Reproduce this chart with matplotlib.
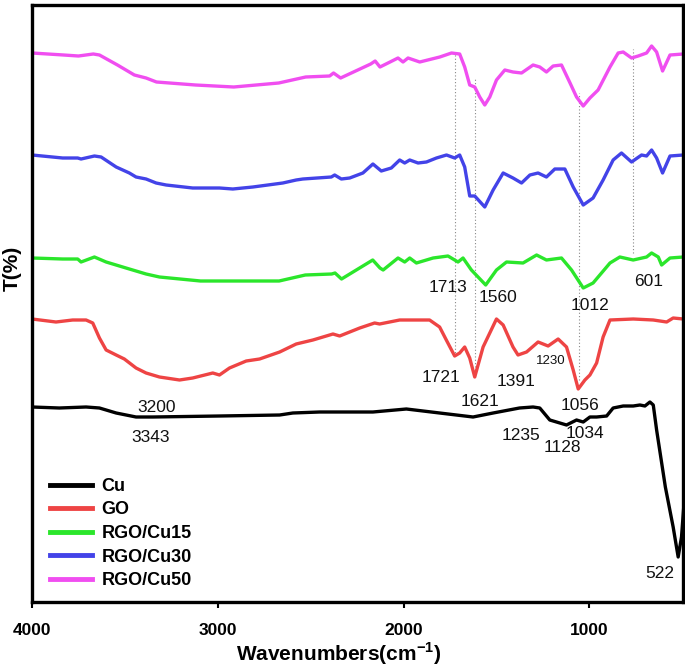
import matplotlib
matplotlib.use("Agg")
import matplotlib.pyplot as plt

plt.rcParams['font.family'] = ['Liberation Sans', 'DejaVu Sans']
plt.rcParams['mathtext.fontset'] = 'custom'
plt.rcParams['mathtext.rm'] = 'Liberation Sans'
plt.rcParams['mathtext.bf'] = 'Liberation Sans:bold'

# ---------------- data (wavenumber, transmittance in arbitrary stacked units) -------------
labels = ["Cu", "GO", "RGO/Cu15", "RGO/Cu30", "RGO/Cu50"]
colors = ["#000000", "#EE4444", "#2BE62B", "#4343E8", "#F04EF0"]

cu_wn = [4000, 3853, 3709, 3637, 3547, 3440, 3350, 2991, 2667, 2596, 2452, 2344, 2236, 2165,
         1985, 1806, 1626, 1518, 1376, 1303, 1267, 1213, 1123, 1069, 1033, 997, 961, 907, 872,
         818, 764, 728, 701, 674, 656, 638, 591, 549, 522, 504, 492]
cu_t = [195, 194, 195, 194, 189, 185, 185, 186, 187, 189, 190, 190, 190, 190,
        193, 189, 185, 189, 194, 195, 194, 182, 177, 182, 180, 185, 185, 186, 194,
        196, 196, 197, 196, 200, 197, 172, 115, 75, 45, 65, 95]

go_wn = [4000, 3871, 3781, 3709, 3673, 3637, 3601, 3547, 3503, 3440, 3386, 3314, 3206, 3135,
         3027, 2991, 2937, 2847, 2775, 2667, 2578, 2488, 2380, 2344, 2236, 2156, 2129, 2021,
         1860, 1806, 1770, 1725, 1698, 1671, 1644, 1617, 1572, 1500, 1464, 1411, 1384, 1338,
         1276, 1222, 1168, 1123, 1087, 1060, 1024, 997, 961, 926, 889, 764, 656, 584, 549, 494]
go_t = [283, 280, 282, 282, 279, 264, 252, 247, 243, 234, 229, 225, 222, 224,
        229, 227, 234, 241, 243, 250, 258, 262, 268, 266, 274, 279, 278, 282,
        282, 275, 262, 246, 249, 255, 244, 225, 255, 283, 277, 255, 247, 250,
        260, 256, 263, 255, 232, 213, 222, 227, 239, 265, 282, 283, 282, 280, 284, 283]

c15_wn = [4000, 3835, 3754, 3736, 3664, 3601, 3494, 3386, 3314, 3093, 2670, 2529, 2387, 2369,
          2334, 2166, 2127, 2110, 2030, 1994, 1967, 1931, 1841, 1761, 1707, 1680, 1635, 1558,
          1500, 1446, 1357, 1284, 1231, 1150, 1096, 1033, 980, 889, 836, 764, 692, 665, 629,
          611, 566, 494]
c15_t = [344, 343, 343, 340, 345, 340, 334, 328, 325, 321, 321, 327, 328, 329,
         323, 342, 334, 332, 344, 340, 344, 339, 344, 346, 340, 344, 332, 317,
         332, 340, 339, 347, 342, 344, 332, 314, 319, 339, 345, 342, 345, 349, 345,
         337, 344, 345]

c30_wn = [4000, 3835, 3754, 3736, 3664, 3628, 3547, 3476, 3440, 3386, 3332, 3278, 3135, 2991,
          2919, 2811, 2650, 2578, 2542, 2389, 2371, 2335, 2290, 2219, 2165, 2120, 2066, 2021,
          1994, 1967, 1922, 1877, 1823, 1769, 1725, 1698, 1671, 1644, 1617, 1563, 1518, 1464,
          1411, 1365, 1320, 1276, 1231, 1186, 1132, 1087, 1033, 980, 926, 872, 827, 773, 719,
          692, 665, 638, 606, 566, 494]
c30_t = [447, 444, 444, 443, 446, 445, 435, 429, 425, 423, 419, 417, 414, 414,
         413, 415, 419, 422, 423, 425, 427, 423, 424, 429, 438, 431, 434, 442,
         439, 442, 439, 440, 444, 447, 444, 447, 435, 406, 406, 395, 412, 429,
         424, 419, 427, 429, 425, 433, 433, 415, 397, 404, 422, 442, 449, 440, 447,
         446, 452, 444, 429, 446, 447]

c50_wn = [4000, 3830, 3750, 3670, 3637, 3540, 3449, 3386, 3330, 3120, 2914, 2672, 2527, 2398,
          2377, 2339, 2177, 2153, 2127, 2073, 2030, 2003, 1976, 1913, 1805, 1742, 1698, 1671,
          1644, 1617, 1590, 1563, 1536, 1500, 1455, 1411, 1365, 1303, 1267, 1231, 1195, 1150,
          1104, 1069, 1033, 997, 953, 889, 845, 818, 773, 737, 692, 665, 638, 606, 566, 494]
c50_t = [549, 547, 546, 548, 547, 537, 527, 524, 520, 517, 515, 519, 525, 526,
         529, 524, 538, 541, 535, 540, 544, 540, 544, 540, 545, 549, 548, 535,
         517, 515, 505, 497, 505, 522, 532, 530, 529, 537, 535, 530, 536, 537,
         519, 505, 496, 504, 512, 535, 549, 550, 544, 546, 549, 556, 550, 531, 547, 548]

series_wn = [cu_wn, go_wn, c15_wn, c30_wn, c50_wn]
series_t = [cu_t, go_t, c15_t, c30_t, c50_t]

# vertical guide lines: (wavenumber, bottom, top)
guide_wn = [1725, 1617, 1055, 767]
guide_lo = [246, 225, 222, 349]
guide_hi = [549, 524, 509, 553]

# peak annotations
ann_text = ["3200", "3343", "1713", "1560", "1012", "601", "1721", "1621", "1391", "1230",
            "1056", "1235", "1128", "1034", "522"]
ann_wn = [3330, 3363, 1762, 1493, 997, 679, 1800, 1590, 1393, 1210, 1051, 1370, 1143, 1024, 619]
ann_t = [195, 164, 315, 305, 297, 320, 225, 200, 220, 241, 196, 167, 154, 169, 29]
ann_size = [12.5] * 9 + [9.5] + [12.5] * 5

xticks = [4000, 3000, 2000, 1000]

# ---------------- figure ----------------
W, H = 685, 667
fig = plt.figure(figsize=(W / 100, H / 100), dpi=100)
ax = fig.add_axes([32 / W, 1 - 602 / H, (683 - 32) / W, (602 - 5) / H])

for wn, t, c, lab in zip(series_wn, series_t, colors, labels):
    ax.plot(wn, t, color=c, lw=2.4, label=lab, solid_joinstyle='round')

for g, lo, hi in zip(guide_wn, guide_lo, guide_hi):
    ax.plot([g, g], [lo, hi], color='#888888', lw=0.8, ls=(0, (1, 2)), zorder=0)

for s, x, y, fs in zip(ann_text, ann_wn, ann_t, ann_size):
    ax.text(x, y, s, ha='center', va='center', fontsize=fs, color='#111111')

ax.set_xlim(4000, 496)
ax.set_ylim(0, 597)
ax.set_yticks([])
ax.set_xticks(xticks)
ax.set_xticklabels([str(v) for v in xticks], fontsize=12.5, fontweight='bold')
ax.tick_params(axis='x', direction='out', length=4, width=1.5, pad=11)
for sp in ax.spines.values():
    sp.set_linewidth(2.4)

ax.set_xlabel(r'Wavenumbers(cm$^{\mathbf{-1}}$)', fontsize=15, fontweight='bold', va='center')
ax.xaxis.set_label_coords((339 - 32) / 651, (602 - 654) / 597)
ax.set_ylabel('T(%)', fontsize=15, fontweight='bold', va='center')
ax.yaxis.set_label_coords((12 - 32) / 651, (602 - 268) / 597)

leg = ax.legend(loc='upper left', bbox_to_anchor=(50 / W, 1 - 478 / H),
                bbox_transform=fig.transFigure, frameon=False, borderpad=0,
                borderaxespad=0, handlelength=2.3, handletextpad=0.55,
                labelspacing=0.36, prop={'weight': 'bold', 'size': 13})
for l in leg.get_lines():
    l.set_linewidth(3.5)

fig.savefig('out.png', dpi=100)
